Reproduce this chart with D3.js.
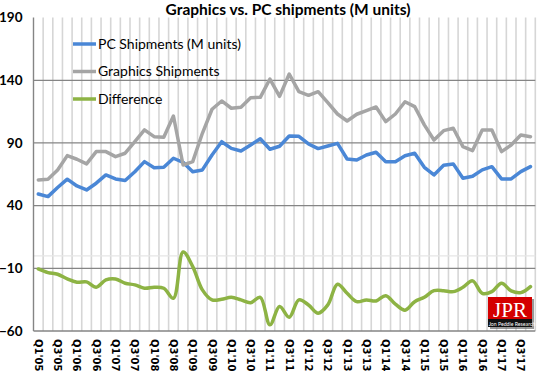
<!DOCTYPE html>
<html>
<head>
<meta charset="utf-8">
<script src="https://cdn.jsdelivr.net/npm/d3@7"></script>
<style>
  body { margin: 0; background: #fff; }
  svg { display: block; font-family: Lato, "Open Sans", sans-serif; }
</style>
</head>
<body>
<div id="chart"></div>
<script>
// Quarters shown on the x axis
const quarters = [
  "Q1'05","Q2'05","Q3'05","Q4'05","Q1'06","Q2'06","Q3'06","Q4'06",
  "Q1'07","Q2'07","Q3'07","Q4'07","Q1'08","Q2'08","Q3'08","Q4'08",
  "Q1'09","Q2'09","Q3'09","Q4'09","Q1'10","Q2'10","Q3'10","Q4'10",
  "Q1'11","Q2'11","Q3'11","Q4'11","Q1'12","Q2'12","Q3'12","Q4'12",
  "Q1'13","Q2'13","Q3'13","Q4'13","Q1'14","Q2'14","Q3'14","Q4'14",
  "Q1'15","Q2'15","Q3'15","Q4'15","Q1'16","Q2'16","Q3'16","Q4'16",
  "Q1'17","Q2'17","Q3'17","Q4'17"
];

const pcShipments = [
  49.3, 47.2, 54.5, 61.1, 55.7, 52.5, 57.9, 64.5, 61.3, 60.0, 67.1, 75.1,
  70.2, 70.6, 77.8, 74.6, 67.1, 68.5, 80.4, 91.0, 85.7, 83.6, 88.4, 93.4,
  85.0, 87.4, 95.6, 95.3, 89.2, 85.5, 87.6, 89.7, 77.2, 76.4, 80.4, 82.6,
  75.1, 75.1, 79.8, 81.8, 70.6, 64.5, 72.2, 73.3, 61.8, 63.4, 68.5, 71.1,
  61.3, 61.3, 67.1, 71.1
];

const graphicsShipments = [
  60.5, 61.0, 68.5, 79.9, 77.0, 73.3, 83.1, 83.1, 79.1, 81.8, 91.0, 100.4,
  95.0, 94.5, 111.5, 72.4, 75.1, 97.7, 116.9, 123.5, 117.7, 118.5, 126.1, 126.4,
  141.0, 127.2, 145.0, 130.9, 128.0, 130.9, 122.1, 113.1, 107.5, 112.9, 115.8, 118.7,
  107.0, 113.1, 122.9, 119.0, 104.4, 92.4, 99.8, 101.7, 87.1, 83.9, 100.4, 100.4,
  83.1, 88.4, 96.4, 95.0
];

const difference = [
  -10.5, -13.4, -14.7, -18.5, -21.1, -20.8, -25.1, -19.3, -18.5, -21.9, -23.2, -25.9,
  -25.1, -25.9, -33.9, 3.0, -8.6, -27.2, -35.2, -34.7, -33.1, -35.2, -37.4, -33.1,
  -55.1, -40.5, -49.0, -35.2, -39.2, -45.8, -39.2, -22.7, -29.9, -36.6, -35.2, -36.0,
  -31.8, -38.6, -43.4, -36.6, -33.1, -27.8, -27.8, -28.6, -25.1, -20.0, -29.9, -28.6,
  -21.9, -28.0, -29.4, -24.6
];

const yTicks = [-60, -10, 40, 90, 140, 190];

const series = [
  { name: "PC Shipments (M units)", values: pcShipments, color: "#4a87d6", curve: d3.curveLinear },
  { name: "Graphics Shipments", values: graphicsShipments, color: "#a5a5a5", curve: d3.curveLinear },
  { name: "Difference", values: difference, color: "#8db344", curve: d3.curveCatmullRom }
];

const width = 537, height = 375;
const margin = { top: 17.6, right: 1.7, bottom: 44, left: 33.5 };

const svg = d3.select("#chart").append("svg")
  .attr("width", width)
  .attr("height", height);

const x = d3.scaleBand()
  .domain(quarters)
  .range([margin.left, width - margin.right])
  .padding(0);

const y = d3.scaleLinear()
  .domain([-60, 190])
  .range([height - margin.bottom, margin.top]);

// vertical grid lines at category boundaries
svg.append("g")
  .selectAll("line")
  .data(quarters)
  .enter().append("line")
  .attr("x1", d => x(d) + x.bandwidth())
  .attr("x2", d => x(d) + x.bandwidth())
  .attr("y1", y(190))
  .attr("y2", y(-60))
  .attr("stroke", "#d6d6d6")
  .attr("stroke-width", 1.6);

// faint zero line
svg.append("line")
  .attr("x1", margin.left).attr("x2", width - margin.right)
  .attr("y1", y(0)).attr("y2", y(0))
  .attr("stroke", "#e6e6e6")
  .attr("stroke-width", 1.2);

// horizontal grid lines
svg.append("g")
  .selectAll("line")
  .data(yTicks.filter(d => d > -60 && d < 190))
  .enter().append("line")
  .attr("x1", margin.left).attr("x2", width - margin.right)
  .attr("y1", d => y(d)).attr("y2", d => y(d))
  .attr("stroke", "#858585")
  .attr("stroke-width", 1.2);

// axis lines
svg.append("line")
  .attr("x1", margin.left).attr("x2", width - margin.right)
  .attr("y1", y(-60)).attr("y2", y(-60))
  .attr("stroke", "#858585").attr("stroke-width", 1.4);
svg.append("line")
  .attr("x1", margin.left).attr("x2", margin.left)
  .attr("y1", y(190)).attr("y2", y(-60))
  .attr("stroke", "#858585").attr("stroke-width", 1.4);

// y axis labels
const yAxis = svg.append("g")
  .attr("transform", "translate(" + (margin.left - 11) + ",0)")
  .call(d3.axisLeft(y).tickValues(yTicks).tickSize(0).tickPadding(0));
yAxis.select(".domain").remove();
yAxis.selectAll("text")
  .attr("font-family", "Lato, sans-serif")
  .attr("font-size", 13.5)
  .attr("font-weight", "bold")
  .attr("fill", "#000");

// x axis labels (every other quarter, rotated)
const xAxis = svg.append("g")
  .attr("transform", "translate(0," + y(-60) + ")")
  .call(d3.axisBottom(x)
    .tickValues(quarters.filter((d, i) => i % 2 === 0))
    .tickSize(0));
xAxis.select(".domain").remove();
xAxis.selectAll("text")
  .attr("font-family", "'DejaVu Sans', sans-serif")
  .attr("font-size", 10)
  .attr("font-weight", "bold")
  .attr("fill", "#000")
  .attr("text-anchor", "start")
  .attr("transform", "rotate(90)")
  .attr("x", 8)
  .attr("y", 0)
  .attr("dy", "0.35em");

// lines
series.forEach(function(s) {
  const line = d3.line()
    .x((d, i) => x(quarters[i]) + x.bandwidth() / 2)
    .y(d => y(d))
    .curve(s.curve);
  svg.append("path")
    .datum(s.values)
    .attr("fill", "none")
    .attr("stroke", s.color)
    .attr("stroke-width", 3.5)
    .attr("stroke-linejoin", "round")
    .attr("stroke-linecap", "round")
    .attr("d", line);
});

// legend
const legend = svg.append("g")
  .selectAll("g")
  .data(series)
  .enter().append("g")
  .attr("transform", (d, i) => "translate(73," + (44 + i * 27.5) + ")");
legend.append("line")
  .attr("x1", 0).attr("x2", 23)
  .attr("stroke", d => d.color)
  .attr("stroke-width", 3.5);
legend.append("text")
  .attr("x", 25)
  .attr("dy", "0.35em")
  .attr("font-size", 14)
  .attr("fill", "#000")
  .text(d => d.name);

// title
svg.append("text")
  .attr("x", 288)
  .attr("y", 15)
  .attr("text-anchor", "middle")
  .attr("font-size", 15.5)
  .attr("font-weight", "bold")
  .attr("fill", "#000")
  .text("Graphics vs. PC shipments (M units)");

// JPR logo
const logo = svg.append("g").attr("transform", "translate(488,297)");
logo.append("rect").attr("x", 2).attr("y", 2).attr("width", 44).attr("height", 30).attr("fill", "#555").attr("opacity", 0.6);
logo.append("rect").attr("width", 44).attr("height", 23).attr("fill", "#d40000");
logo.append("rect").attr("y", 22).attr("width", 44).attr("height", 8).attr("fill", "#111");
logo.append("text")
  .attr("x", 22).attr("y", 19.5)
  .attr("text-anchor", "middle")
  .attr("font-family", "Liberation Serif, serif")
  .attr("font-size", 21)
  .attr("fill", "#fff")
  .text("JPR");
logo.append("text")
  .attr("x", 24).attr("y", 28.5)
  .attr("text-anchor", "middle")
  .attr("font-size", 5.2)
  .attr("fill", "#fff")
  .text("Jon Peddie Research");
</script>
</body>
</html>
